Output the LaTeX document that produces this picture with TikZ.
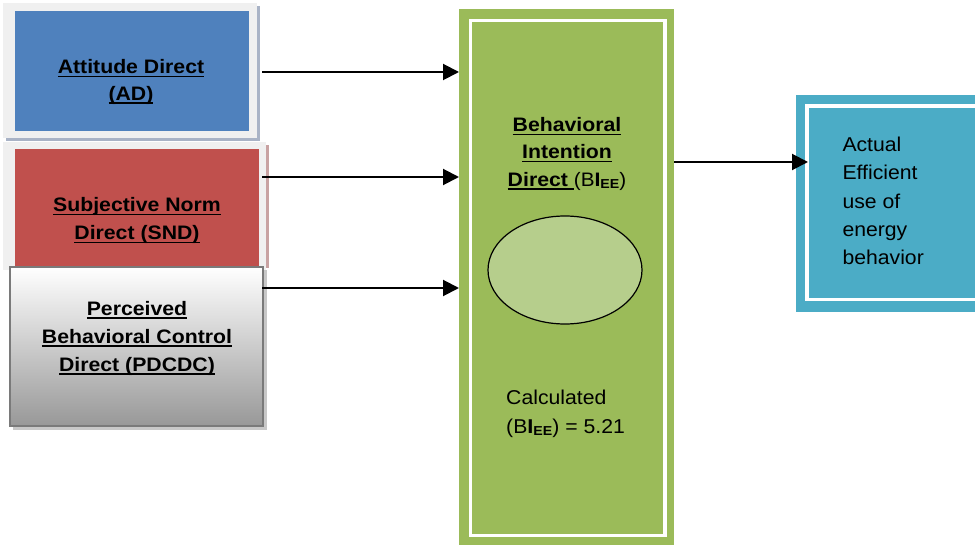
\documentclass[tikz,border=0pt]{standalone}
\usepackage{fontspec}
\setmainfont{Liberation Sans}[FakeStretch=1.06, BoldFeatures={FakeStretch=1.09}]
\usetikzlibrary{arrows.meta,shapes.geometric}
\definecolor{adblue}{HTML}{4F81BD}
\definecolor{sndred}{HTML}{C0504D}
\definecolor{bigreen}{HTML}{9BBB59}
\definecolor{ellgreen}{HTML}{B6CE8C}
\definecolor{aeteal}{HTML}{4BACC6}
\definecolor{framegray}{HTML}{F0F0F0}
\definecolor{shadowblue}{HTML}{A9B3C6}
\definecolor{shadowred}{HTML}{C8A2A2}
\definecolor{shadowgray}{HTML}{C8C8C8}
\definecolor{pbcborder}{HTML}{7A7A7A}
\definecolor{pbcbottom}{HTML}{989898}
\newcommand{\ulx}[1]{\setbox0\hbox{#1}\rlap{\rule[-3.5pt]{\wd0}{1.6pt}}\box0}
\newcommand{\subEE}{\raisebox{-2.5pt}{\fontsize{13}{13}\selectfont\bfseries EE}}
\begin{document}
\begin{tikzpicture}[x=1pt,y=-1pt,
  boxnode/.style={inner sep=0pt, outer sep=0pt, draw=none},
  lbl/.style={font=\fontsize{19.5}{28}\selectfont\bfseries, align=center, inner sep=0pt, anchor=north},
  txt/.style={font=\fontsize{20}{28.4}\selectfont, align=left, inner sep=0pt, anchor=north west},
  arr/.style={-{Triangle[length=16pt,width=16pt]}, line width=2pt, black}]
\useasboundingbox (0,0) rectangle (975,545);

% ---- Attitude Direct ----
\fill[shadowblue] (6,6) rectangle (260,141);
\node[boxnode, fill=framegray, minimum width=254pt, minimum height=135pt] (adf) at (130,70.5) {};
\node[boxnode, fill=adblue, minimum width=234pt, minimum height=120pt] (ad) at (132,71) {};
\node[lbl, font=\fontsize{19.5}{26.6}\selectfont\bfseries] (adt) at (131,59.3) {\ulx{Attitude Direct}\\\ulx{(AD)}};

% ---- Subjective Norm Direct ----
\fill[shadowred] (6,145) rectangle (269,268);
\node[boxnode, fill=framegray, minimum width=263pt, minimum height=128pt] (sndf) at (134.5,206) {};
\node[boxnode, fill=sndred, minimum width=244pt, minimum height=119pt] (snd) at (137,208.5) {};
\node[lbl] (sndt) at (137,197.3) {\ulx{Subjective Norm}\\\ulx{Direct (SND)}};

% ---- Perceived Behavioral Control Direct ----
\fill[shadowgray] (13,270) rectangle (267,430);
\node[boxnode, draw=pbcborder, line width=2pt, top color=white, bottom color=pbcbottom,
      minimum width=253pt, minimum height=159pt] (pbc) at (136.5,346.5) {};
\node[lbl] (pbct) at (137,300.7) {\ulx{Perceived}\\\ulx{Behavioral Control}\\\ulx{Direct (PDCDC)}};

% ---- Behavioral Intention Direct ----
\node[boxnode, fill=bigreen, minimum width=215pt, minimum height=546pt] (bi) at (566.5,282) {};
\draw[white, line width=3.5pt] (470.5,20.5) rectangle (665,535.5);
\node[lbl, font=\fontsize{19.5}{27.2}\selectfont\bfseries] (bit) at (567,117.3)
  {\ulx{Behavioral}\\\ulx{Intention}\\\ulx{Direct\ }{\mdseries(B}I\subEE{\mdseries)}};
\node[ellipse, draw=black, line width=1.2pt, fill=ellgreen, minimum width=154pt, minimum height=108pt, inner sep=0pt] (ell) at (565,270) {};
\node[txt] (calc) at (506,390) {Calculated\\(B\textbf{I}\subEE) = 5.21};

% ---- Actual Efficient use of energy behavior ----
\node[boxnode, fill=aeteal, minimum width=200pt, minimum height=217pt] (ae) at (896,203.5) {};
\draw[white, line width=3.5pt] (807,106) rectangle (990,299.5);
\node[txt] (aet) at (842.3,136.7) {Actual\\Efficient\\use of\\energy\\behavior};

% ---- connectors ----
\draw[arr] ([shift={(5,1.5)}]adf.east) coordinate (s1) -- (s1 -| bi.west);
\draw[arr] ([shift={(-4,-29)}]sndf.east) coordinate (s2) -- (s2 -| bi.west);
\draw[arr] ([shift={(-1,-58.5)}]pbc.east) coordinate (s3) -- (s3 -| bi.west);
\draw[arr] ([yshift=120pt]bi.east) coordinate (s4) -- ([xshift=12pt]s4 -| ae.west);
\end{tikzpicture}
\end{document}
